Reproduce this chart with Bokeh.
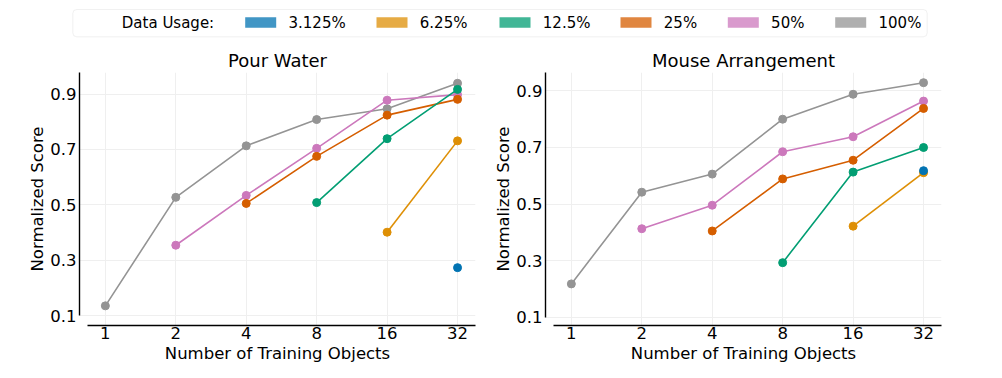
import numpy as np
from bokeh.plotting import figure
from bokeh.layouts import column, row
from bokeh.models import Range1d, FixedTicker, BoxAnnotation
from bokeh.embed import file_html
from bokeh.resources import INLINE
from bokeh.core.properties import value

nan = float("nan")

# ---------------- data ----------------
objects = [1, 2, 4, 8, 16, 32]
x_labels = ["1", "2", "4", "8", "16", "32"]
y_ticks = [0.1, 0.3, 0.5, 0.7, 0.9]
y_labels = ["0.1", "0.3", "0.5", "0.7", "0.9"]
usage = ["3.125%", "6.25%", "12.5%", "25%", "50%", "100%"]
colors = ["#0173B2", "#DE8F05", "#029E73", "#D55E00", "#CC78BC", "#949494"]

pour_3125 = [nan, nan, nan, nan, nan, 0.273]
pour_625 = [nan, nan, nan, nan, 0.401, 0.731]
pour_125 = [nan, nan, nan, 0.508, 0.739, 0.917]
pour_25 = [nan, nan, 0.505, 0.675, 0.824, 0.881]
pour_50 = [nan, 0.354, 0.534, 0.704, 0.878, 0.898]
pour_100 = [0.135, 0.527, 0.713, 0.808, 0.847, 0.939]

mouse_3125 = [nan, nan, nan, nan, nan, 0.618]
mouse_625 = [nan, nan, nan, nan, 0.422, 0.611]
mouse_125 = [nan, nan, nan, 0.293, 0.613, 0.700]
mouse_25 = [nan, nan, 0.405, 0.589, 0.655, 0.838]
mouse_50 = [nan, 0.413, 0.496, 0.685, 0.738, 0.864]
mouse_100 = [0.218, 0.542, 0.606, 0.800, 0.888, 0.929]

pour = [pour_3125, pour_625, pour_125, pour_25, pour_50, pour_100]
mouse = [mouse_3125, mouse_625, mouse_125, mouse_25, mouse_50, mouse_100]

FONT = "DejaVu Sans"
xpos = np.log2(objects)


def make_panel(title, series, y0, y1, bl, br):
    p = figure(
        output_backend="svg", toolbar_location=None,
        frame_width=396, frame_height=253,
        min_border_left=bl, min_border_right=br,
        min_border_top=28, min_border_bottom=44,
        x_range=Range1d(-0.367, 5.255), y_range=Range1d(y0, y1),
        title=title,
    )
    p.outline_line_color = None
    p.background_fill_color = "white"
    p.border_fill_color = "white"
    p.title.align = "center"
    p.title.text_font = FONT
    p.title.text_font_size = "18px"
    p.title.text_font_style = "normal"
    p.title.text_color = "black"
    p.title.standoff = 4

    # draw largest usage first so small usages sit on top
    for vals, col in reversed(list(zip(series, colors))):
        ys = np.array(vals, dtype=float)
        p.line(xpos, ys, line_color=col, line_width=1.6)
        p.scatter(xpos, ys, size=8, fill_color=col, line_color=col)

    for ax in (p.xaxis[0], p.yaxis[0]):
        ax.major_tick_out = 0
        ax.major_tick_in = 0
        ax.minor_tick_out = 0
        ax.minor_tick_in = 0
        ax.axis_line_color = "black"
        ax.axis_line_width = 1.4
        ax.major_label_text_font = FONT
        ax.major_label_text_font_size = "16.5px"
        ax.major_label_text_color = "black"
        ax.axis_label_text_font = FONT
        ax.axis_label_text_font_size = "16.5px"
        ax.axis_label_text_font_style = "normal"
        ax.axis_label_text_color = "black"

    p.xaxis.ticker = FixedTicker(ticks=list(xpos))
    p.xaxis.major_label_overrides = {float(x): l for x, l in zip(xpos, x_labels)}
    p.xaxis.bounds = (-0.253, 5.255)
    p.xaxis.major_label_standoff = 1
    p.xaxis.axis_label = "Number of Training Objects"
    p.xaxis.axis_label_standoff = 2

    p.yaxis.ticker = FixedTicker(ticks=y_ticks)
    p.yaxis.major_label_overrides = {t: l for t, l in zip(y_ticks, y_labels)}
    p.yaxis.bounds = (0.1, y1)
    p.yaxis.major_label_standoff = 3
    p.yaxis.axis_label = "Normalized Score"
    p.yaxis.axis_label_standoff = 0

    p.xgrid.ticker = FixedTicker(ticks=list(xpos))
    p.ygrid.ticker = FixedTicker(ticks=y_ticks)
    p.xgrid.bounds = (-1, 6)
    p.ygrid.bounds = (0, 1)
    p.grid.grid_line_color = "#efefef"
    p.grid.grid_line_width = 1
    return p


p1 = make_panel("Pour Water", pour, 0.064, 0.978, 79, 10)
p2 = make_panel("Mouse Arrangement", mouse, 0.071, 0.965, 60, 50)

# ---------------- legend strip ----------------
LW, LH = 986, 44
DX, DY = 7, 7
lg = figure(
    output_backend="svg", toolbar_location=None,
    width=LW, height=LH,
    x_range=Range1d(0, LW), y_range=Range1d(LH, 0),
    x_axis_type=None, y_axis_type=None,
    min_border=0,
)
lg.outline_line_color = None
lg.grid.visible = False
lg.add_layout(BoxAnnotation(left=65.3 + DX, right=919.7 + DX, top=2 + DY, bottom=29.3 + DY,
                            fill_alpha=0, line_color="#d0d0d0", line_width=1,
                            border_radius=4))
patch_left = [237.7 + DX, 369.0 + DX, 492.0 + DX, 613.0 + DX, 720.3 + DX, 827.7 + DX]
lg.text(x=[114.3 + DX], y=[15.5 + DY], text=["Data Usage:"], text_font=value(FONT),
        text_font_size="15px", text_baseline="middle", text_align="left",
        text_color="black")
lg.quad(left=patch_left, right=[x + 31 for x in patch_left],
        top=[9.7 + DY] * 6, bottom=[20.3 + DY] * 6,
        fill_color=colors, fill_alpha=0.75, line_color=None)
lg.text(x=[x + 43.3 for x in patch_left], y=[15.5 + DY] * 6, text=usage,
        text_font=value(FONT), text_font_size="15px",
        text_baseline="middle", text_align="left", text_color="black")

layout = column(lg, row(p1, p2))
open("out.html", "w").write(file_html(layout, INLINE))
